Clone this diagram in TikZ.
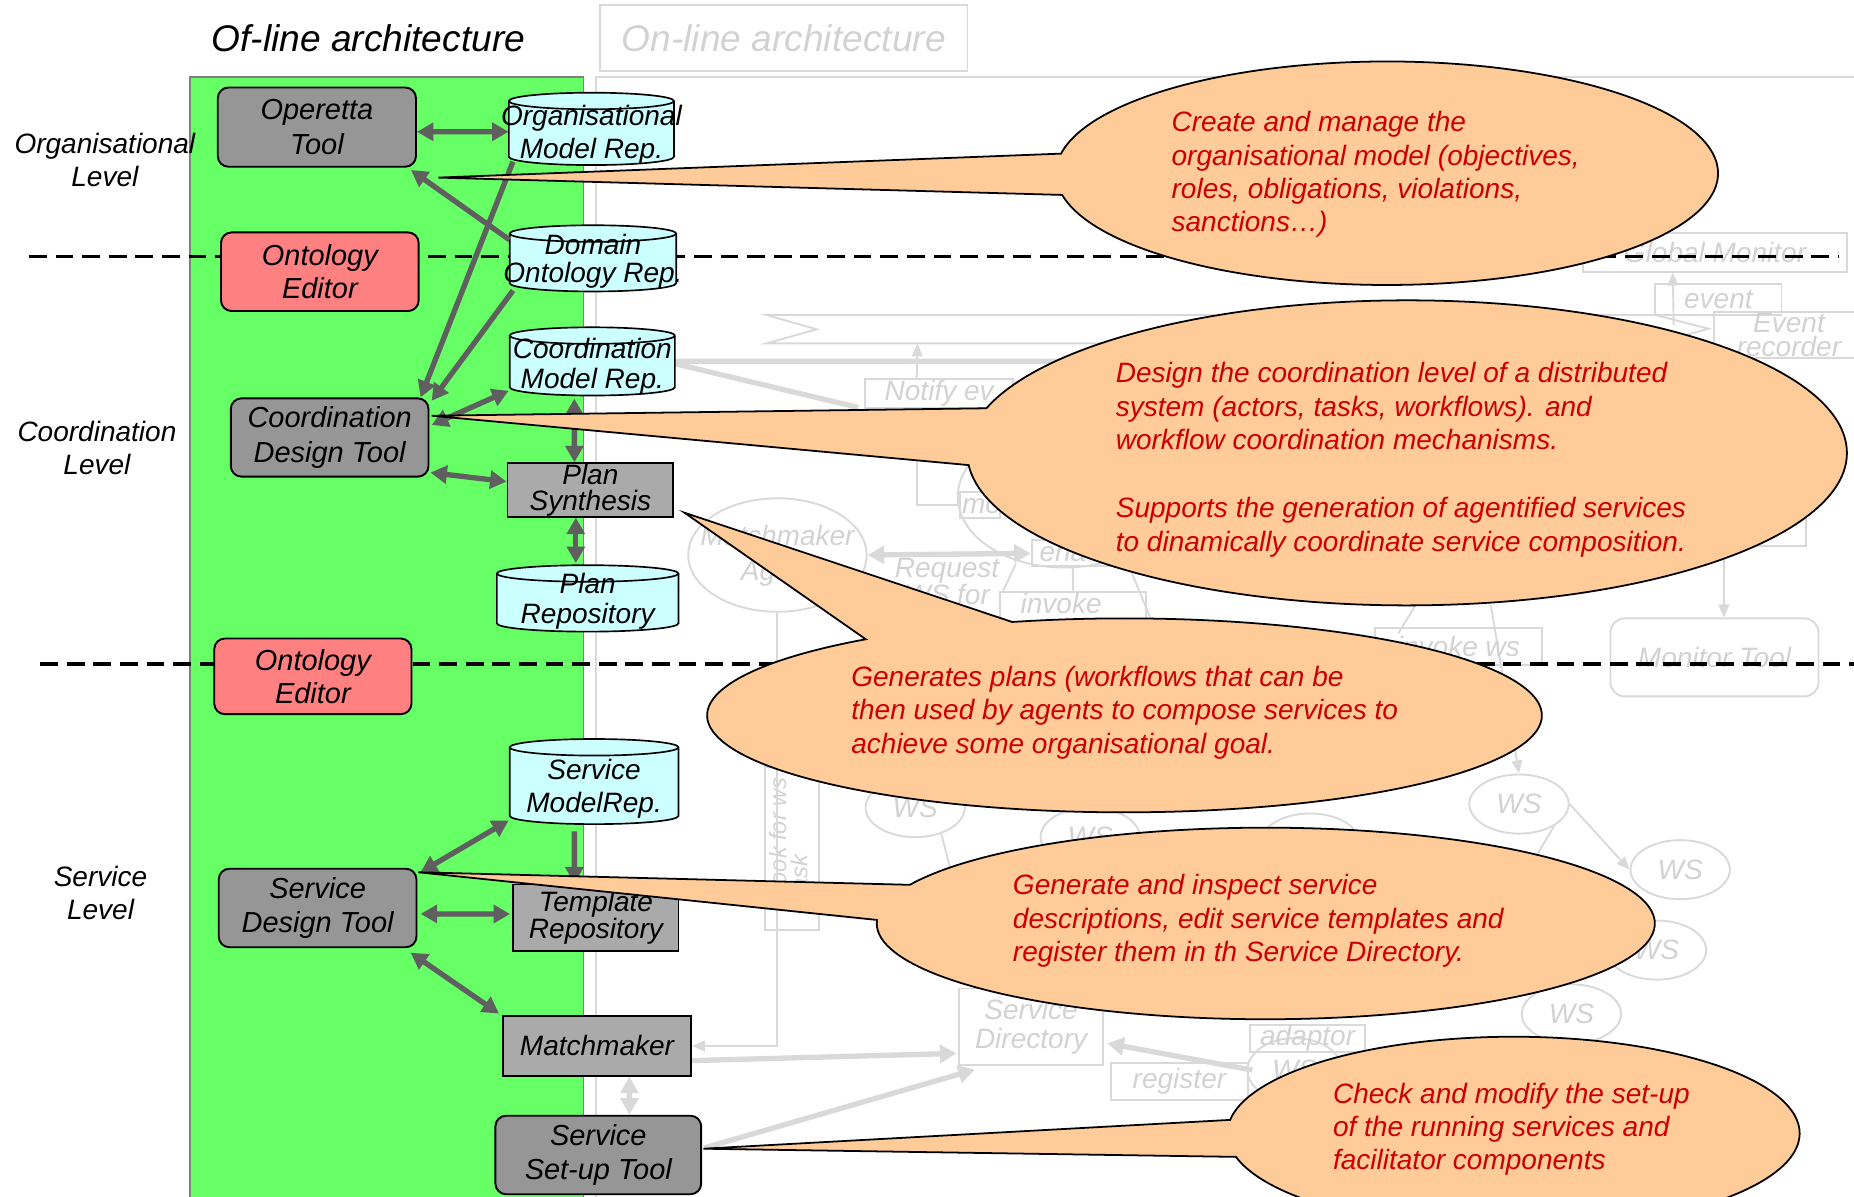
\documentclass[tikz,border=0pt]{standalone}
\usepackage{fontspec}
\setmainfont{Liberation Sans}
\usetikzlibrary{arrows.meta,calc,shapes.geometric}
\pgfdeclarelayer{faintlayer}
\pgfdeclarelayer{panellayer}
\pgfsetlayers{faintlayer,panellayer,main}
\definecolor{toolgray}{HTML}{969696}
\definecolor{boxgray}{HTML}{AAAAAA}
\definecolor{ontored}{HTML}{FF8080}
\definecolor{repcyan}{HTML}{CCFFFF}
\definecolor{panelgreen}{HTML}{66FF66}
\definecolor{panelborder}{HTML}{808080}
\definecolor{arrgray}{HTML}{5F5F5F}
\definecolor{faintc}{HTML}{D9D9D9}
\definecolor{fainttc}{HTML}{D2D2D2}
\definecolor{callfill}{HTML}{FFCC99}
\definecolor{calltext}{HTML}{CC0000}
\newcommand\fs{\fontsize{23.7}{28.2}\selectfont}
\newcommand\fstool{\fontsize{24.5}{29.5}\selectfont}
\newcommand\fstitle{\fontsize{31.4}{36}\selectfont}
\newcommand\repo[7]{%
  \pgfmathsetmacro\rrx{(#4-#2)/2}%
  \pgfmathsetmacro\rcx{(#2+#4)/2}%
  \pgfmathsetmacro\rcy{(#3+#5)/2}%
  \filldraw[cylbody] (#2,#3+7) -- (#2,#5-7) arc[start angle=180, end angle=0, x radius=\rrx, y radius=7] -- (#4,#3+7) arc[start angle=0, end angle=-180, x radius=\rrx, y radius=7] -- cycle;
  \draw[cylbody, fill=none] (#2,#3+7) arc[start angle=180, end angle=0, x radius=\rrx, y radius=7];
  \node[minimum width=#4-#2, minimum height=#5-#3] (#1) at (\rcx,\rcy) {};
  \node[align=center] (#1t) at (\rcx,\rcy+#7) {#6};
}
\newcommand\bubble[7]{%
  \filldraw[bubblest] (#1) -- ($(#2,#3)+(#6:#4 and #5)$) arc[start angle=#6, end angle=#7, x radius=#4, y radius=#5] -- cycle;
}
\begin{document}
\begin{tikzpicture}[x=1pt,y=-1pt,
  every node/.style={font=\fs\itshape, inner sep=0pt},
  tool/.style={draw=black, line width=1.6pt, rounded corners=9pt, fill=toolgray, align=center, font=\fstool\itshape},
  onto/.style={tool, fill=ontored},
  procbox/.style={draw=black, line width=1.6pt, fill=boxgray, align=center},
  cylbody/.style={draw=black, line width=1.4pt, fill=repcyan},
  arr/.style={draw=arrgray, line width=4.5pt, -{Triangle[length=14pt,width=15pt]}},
  biarr/.style={draw=arrgray, line width=4.5pt, {Triangle[length=14pt,width=15pt]}-{Triangle[length=14pt,width=15pt]}},
  bubblest/.style={draw=black, line width=1.5pt, fill=callfill},
  calltxt/.style={text=calltext, align=left, anchor=north west},
  lvltxt/.style={align=center},
  levelline/.style={draw=black, line width=3.2pt, dash pattern=on 15pt off 7.5pt},
  fbox/.style={draw=faintc, line width=1.6pt, text=fainttc, align=center},
  fellipse/.style={ellipse, draw=faintc, line width=1.6pt, text=fainttc, align=center},
  ftext/.style={text=fainttc},
  fline/.style={draw=faintc, line width=1.6pt},
  fthin/.style={draw=faintc, line width=1.6pt, -{Triangle[length=11pt,width=9pt]}},
  fthick/.style={draw=faintc, line width=4.5pt},
  fthickarr/.style={fthick, -{Triangle[length=14pt,width=15pt]}},
  fthickbi/.style={fthick, {Triangle[length=14pt,width=15pt]}-{Triangle[length=14pt,width=15pt]}}
]
\useasboundingbox (0,0) rectangle (1568,1012);
\clip (0,0) rectangle (1568,1012);

% ---------- main off-line nodes ----------
\node[font=\fstitle\itshape] (title) at (311.5,32.4) {Of-line architecture};

\repo{omr}{430.4}{78.4}{570}{139.6}{Organisational\\Model Rep.}{5}
\repo{dor}{431.1}{190.5}{571.9}{246.5}{Domain\\[-4.2pt]Ontology Rep.}{2.5}
\repo{cmr}{431.1}{276.8}{570.8}{334.5}{Coordination\\[-2.8pt]Model Rep.}{4.5}
\repo{pr}{420.2}{478}{573.8}{534.2}{Plan\\[-2.8pt]Repository}{2.7}
\repo{smr}{431.1}{625}{573.8}{697}{Service\\ModelRep.}{6}

\node[tool, minimum width=167.6, minimum height=67] (op) at (268,107.5) {Operetta\\Tool};
\node[onto, minimum width=167.2, minimum height=66.5] (oe1) at (270.5,229.8) {Ontology\\[-1.5pt]Editor};
\node[tool, minimum width=167.2, minimum height=66.2] (cdt) at (278.8,370) {Coordination\\Design Tool};
\node[onto, minimum width=166.8, minimum height=64] (oe2) at (264.6,572) {Ontology\\[-1.5pt]Editor};
\node[tool, minimum width=167.2, minimum height=66.4] (sdt) at (268.6,767.9) {Service\\Design Tool};
\node[tool, minimum width=174, minimum height=66.4] (sst) at (506,976.8) {Service\\Set-up Tool};
\node[procbox, minimum width=140.1, minimum height=45.2] (ps) at (499.3,414.4) {Plan\\[-6pt]Synthesis};
\node[procbox, minimum width=139.7, minimum height=56] (tr) at (504,776) {Template\\[-5pt]Repository};
\node[procbox, minimum width=159, minimum height=50.2] (mm) at (504.9,884.6) {Matchmaker};

% ---------- arrows ----------
\draw[biarr] ($(op.east)+(0,4)$) -- ($(omr.west)+(0,2.4)$);
\draw[arr] ($(dor.north west)+(0,12.5)$) -- ($(op.south east)+(-5,2)$);
\draw[arr] ($(omr.south west)+(3.6,-3)$) -- ($(cdt.north east)+(-7.5,0)$);
\draw[arr] ($(dor.south west)+(3,-1)$) -- ($(cdt.north east)+(1.9,2.8)$);
\draw[biarr] ($(cdt.east)+(1.9,-10.6)$) -- ($(cmr.south west)+(-0.7,-4.2)$);
\draw[biarr] ($(cdt.south east)+(0.8,-4.2)$) -- ($(ps.west)+(0,-7.1)$);
\draw[biarr] ($(cmr.south)+(-15.2,2.4)$) -- ($(ps.north)+(-13.5,0)$);
\draw[biarr] ($(ps.south)+(-12.3,0)$) -- ($(pr.north)+(-10,-1.6)$);
\draw[arr] ($(smr.south)+(-16.7,6)$) -- ($(tr.north)+(-18.2,0)$);
\draw[biarr] ($(sdt.north east)+(2.7,3.8)$) -- ($(smr.south west)+(-0.7,-3.3)$);
\draw[biarr] ($(sdt.east)+(2.7,5)$) -- ($(tr.west)+(-1.9,-3)$);
\draw[biarr] ($(sdt.south east)+(-5.7,3.8)$) -- ($(mm.north west)+(-2.6,-1.5)$);

% ---------- callouts ----------
\coordinate (tipA) at ($(op.south east)+(18.2,8.4)$);
\coordinate (tipB) at ($(cdt.north east)+(1.9,15.5)$);
\coordinate (tipC) at ($(ps.south east)+(8.7,-4.2)$);
\coordinate (tipD) at ($(sdt.north east)+(0.8,3.8)$);
\coordinate (tipE) at ($(sst.east)+(1,-5.3)$);

\bubble{tipA}{1173}{146.5}{280}{94.5}{168.8}{-169.9}
\node[calltxt] (ta) at (990.7,94) {Create and manage the\\organisational model (objectives,\\roles, obligations, violations,\\sanctions…)};

\bubble{tipB}{1190}{383}{372}{129}{175.4}{-163}
\node[calltxt] (tb) at (943.5,306.5) {Design the coordination level of a distributed\\system (actors, tasks, workflows). and\\workflow coordination mechanisms.\\[29.5pt]Supports the generation of agentified services\\to dinamically coordinate service composition.};

\bubble{tipC}{951}{605}{353}{82}{-105.6}{231.7}
\node[calltxt] (tc) at (719.8,563.3) {Generates plans (workflows that can be\\then used by agents to compose services to\\achieve some organisational goal.};

\bubble{tipD}{1070.5}{781}{329}{81}{-156.2}{182.1}
\node[calltxt] (td) at (856.5,739.5) {Generate and inspect service\\descriptions, edit service templates and\\register them in th Service Directory.};

\bubble{tipE}{1280}{958.5}{242}{81.7}{165.9}{-172}
\node[calltxt] (te) at (1127.2,915.7) {Check and modify the set-up\\of the running services and\\facilitator components};

% ---------- panel layer ----------
\begin{pgfonlayer}{panellayer}
\node[draw=panelborder, fill=panelgreen, line width=1.5pt, minimum width=333, minimum height=970] (panel) at (326.9,549.8) {};
\coordinate (d1a) at (24.5,217); \coordinate (d1b) at (1555.6,217);
\coordinate (d2a) at (34,561.5); \coordinate (d2b) at (1568,561.5);
\draw[levelline] (d1a) -- (d1b);
\draw[levelline] (d2a) -- (d2b);
\node[lvltxt] (lorg) at (88.7,135.3) {Organisational\\Level};
\node[lvltxt] (lcoo) at (82,379) {Coordination\\Level};
\node[lvltxt] (lser) at (85,755) {Service\\Level};
\end{pgfonlayer}

% ---------- faint on-line architecture ----------
\begin{pgfonlayer}{faintlayer}
\node[fbox, font=\fstitle\itshape, minimum width=310.7, minimum height=55.6] (onl) at (662.9,32) {On-line architecture};
\coordinate (pnw) at (503.7,64.8);
\draw[fline] (1568,64.8) -- (pnw) -- (503.7,1012);
\draw[fline] (648.4,266.4) -- (1400,266.4) -- (1445,278) -- (1400,290.4) -- (648.4,290.4) -- (690.7,278.5) -- cycle;
\coordinate (bab) at (776,290.4);
\node[fbox, minimum width=125.4, minimum height=24.5] (fnotify) at (794.3,333) {Notify ev};
\draw[fthick] (cmr.east) -- (1450,305.4);
\draw[fthick] ($(cmr.east)+(0,2)$) -- ($(fnotify.south west)+(-5,-1.5)$);
\draw[fthin] ($(fnotify.north west)+(44.4,0)$) -- (bab);
\node[fbox, minimum width=34, minimum height=22.6] (fmo) at (829,427.1) {};
\node[ftext, anchor=west] (fmot) at (813.5,428) {mo};
\draw[fline] ($(fnotify.south west)+(44.4,0)$) |- (fmo.west);
\node[fellipse, minimum width=180, minimum height=120] (fag) at (900,420) {};
\node[fbox, minimum width=69.5, minimum height=22] (fena) at (907.3,468) {};
\node[ftext, anchor=west] (fenat) at (879,468.5) {ena};
\node[fellipse, minimum width=151, minimum height=96] (fma) at (657.5,469.4) {};
\node[ftext, align=center] (fmat) at (657.5,470) {Matchmaker\\[1.8pt]Agent};
\draw[fthickbi] (fma.east) -- (fena.west);
\node[ftext, align=center, font=\fontsize{23.7}{17}\selectfont\itshape] (freq) at (801,492) {Request\\WS for};
\node[fbox, minimum width=123, minimum height=36] (finv) at (907.5,518.4) {};
\node[ftext, anchor=west] (finvt) at (863,510) {invoke};
\draw[fline] (859.3,476.5) -- (848,500.4);
\draw[fline] (957.4,485) -- (972.5,521.6);
\draw[fline] (fena.south) -- (finv.north);
\node[fbox, minimum width=46, minimum height=138.2] (flook) at (670,717.5) {};
\node[ftext, rotate=90, anchor=west, align=left, font=\fontsize{20}{18}\selectfont\itshape] (flookt) at (666.6,760) {Look for ws\\task};
\draw[fthin] (fma.south) |- (mm.east);
\node[fellipse, minimum width=84, minimum height=50] (fws1) at (774,683) {WS};
\node[fellipse, minimum width=84, minimum height=50] (fws2) at (922,708) {WS};
\node[fellipse, minimum width=84, minimum height=50] (fws3) at (1108,713) {WS};
\node[fellipse, minimum width=84, minimum height=50] (fws5) at (1284.7,680) {WS};
\node[fellipse, minimum width=84, minimum height=50] (fws6) at (1421,735.5) {WS};
\node[fellipse, minimum width=84, minimum height=50] (fws7) at (1401,803.5) {WS};
\node[fellipse, minimum width=84, minimum height=50] (fws4) at (1329,857.5) {WS};
\node[fellipse, minimum width=80, minimum height=54] (fws8) at (1095,905) {WS};
\draw[fline] (fws1.-45) -- (803.3,733);
\draw[fthin] (fws5.east) -- (fws6.west);
\draw[fline] (fws5.-32) -- (1300.6,721.7);
\draw[fline] (1197.3,511.6) -- (1182.6,535.6);
\draw[fthin] (1260.8,511.6) -- (fws5.north);
\node[fbox, minimum width=140.8, minimum height=31] (finv2) at (1233.4,546.9) {invoke ws};
\node[fbox, rounded corners=12pt, minimum width=176, minimum height=66] (fmon) at (1450,556) {Monitor Tool};
\node[fbox, minimum width=107, minimum height=40] (frb) at (1474,441.5) {};
\draw[fthin] ($(frb.south)+(-16,0)$) -- ($(fmon.north)+(7.9,0)$);
\node[fbox, minimum width=223, minimum height=32.4] (fgm) at (1450.5,213.5) {Global Monitor};
\node[fbox, minimum width=106.7, minimum height=26.3] (fev) at (1453.3,253.2) {event};
\node[fbox, minimum width=126.6, minimum height=39.5] (fer) at (1513,283.3) {Event\\[-7.2pt]recorder};
\draw[fthin] (1415.5,275) -- ($(fgm.south west)+(76.5,0)$);
\node[fbox, minimum width=121.4, minimum height=64.8] (fsd) at (872,868.4) {Service\\[-4.2pt]Directory};
\node[fbox, minimum width=116, minimum height=30.7] (freg) at (997.5,914.6) {register};
\node[fbox, minimum width=97.3, minimum height=23.2] (fad) at (1105.9,878.4) {adaptor};
\draw[fthickarr] ($(mm.east)+(0,12.4)$) -- ($(fsd.west)+(-1.6,22.5)$);
\draw[fthickarr] ($(sst.east)+(2,-6)$) -- ($(fsd.south west)+(14,3)$);
\draw[fthickarr] ($(fws8.west)+(5,0)$) -- ($(fsd.east)+(3,14)$);
\draw[fthickbi] ($(mm.south)+(27.4,0)$) -- ($(sst.north)+(26.3,0)$);
\end{pgfonlayer}
\end{tikzpicture}
\end{document}
